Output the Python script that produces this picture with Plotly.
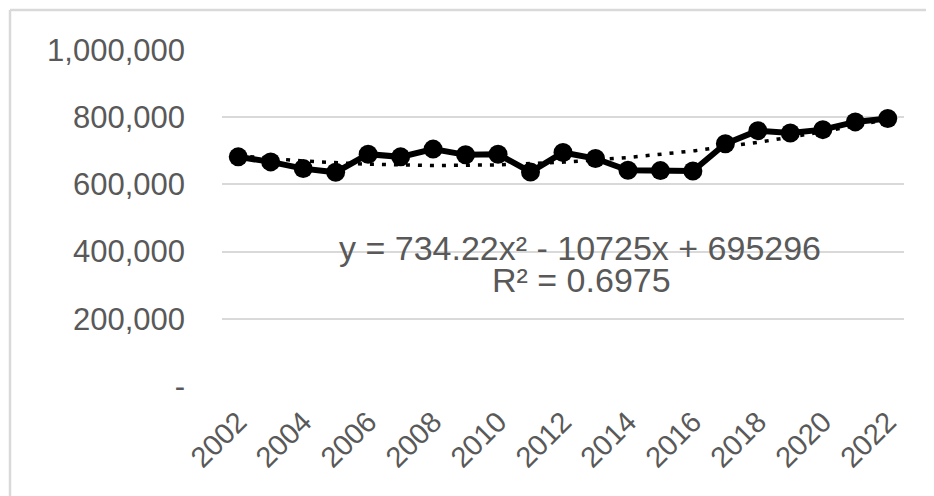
import numpy as np
import plotly.graph_objects as go

years = list(range(2002, 2023))
values = [682000, 667000, 647000, 636000, 690000, 682000, 705000, 688000, 690000, 637000,
          695000, 677000, 642000, 641000, 640000, 721000, 760000, 753000, 763000, 786000, 796000]
trend_coefs = [734.22, -10725, 695296]  # y = a x^2 + b x + c, x = 1..21
y_ticks = [0, 200000, 400000, 600000, 800000, 1000000]
y_ticktext = ["-", "200,000", "400,000", "600,000", "800,000", "1,000,000"]
x_ticks = list(range(2002, 2023, 2))
eq_text = "y = 734.22x² - 10725x + 695296"
r2_text = "R² = 0.6975"

# page body adds an 8px offset; compensate so plot area lands at x 222..904, y 50..386
OFF = 8
W, H = 934, 496
L, R, T, B = 222 - OFF, 30 + OFF, 50 - OFF, 110 + OFF
pw, ph = W - L - R, H - T - B

def px_x(x):  # page pixel -> paper coordinate
    return (x - OFF - L) / pw

def px_y(y):
    return (H - B - (y - OFF)) / ph

xs = np.linspace(1, len(years), 200)
trend_y = np.polyval(trend_coefs, xs)
trend_x = years[0] - 1 + xs

fig = go.Figure()
fig.add_trace(go.Scatter(x=years, y=values, mode="lines+markers",
                         line=dict(color="black", width=6),
                         marker=dict(color="black", size=19), showlegend=False))
fig.add_trace(go.Scatter(x=trend_x, y=trend_y, mode="lines",
                         line=dict(color="black", width=3.5, dash="4px,8px"),
                         showlegend=False, hoverinfo="skip"))

grey = "#595959"
fig.update_layout(
    width=W, height=H,
    margin=dict(l=L, r=R, t=T, b=B),
    paper_bgcolor="white", plot_bgcolor="white",
    font=dict(family="Liberation Sans, Arial, sans-serif", color=grey, size=30),
    xaxis=dict(range=[years[0] - 0.5, years[-1] + 0.5], tickvals=x_ticks,
               tickangle=-45, showgrid=False, zeroline=False, showline=False,
               ticks="", tickfont=dict(size=29, color=grey), ticklabelstandoff=12),
    yaxis=dict(range=[0, 1000000], tickvals=y_ticks, ticktext=y_ticktext,
               showgrid=True, gridcolor="#d9d9d9", gridwidth=2, zeroline=False,
               showline=False, ticks="", tickfont=dict(size=31, color=grey),
               ticklabelstandoff=36),
)

fig.add_annotation(x=px_x(580), y=px_y(248), xref="paper", yref="paper",
                   text=eq_text, showarrow=False, font=dict(size=34, color=grey),
                   xanchor="center", yanchor="middle")
fig.add_annotation(x=px_x(581), y=px_y(280), xref="paper", yref="paper",
                   text=r2_text, showarrow=False, font=dict(size=34, color=grey),
                   xanchor="center", yanchor="middle")

# chart-area border (left and top edges visible)
bx0 = px_x(10)
by1 = px_y(10)
fig.add_shape(type="line", xref="paper", yref="paper", x0=bx0, x1=bx0, y0=by1, y1=-1,
              line=dict(color="#d9d9d9", width=2.5))
fig.add_shape(type="line", xref="paper", yref="paper", x0=bx0, x1=2, y0=by1, y1=by1,
              line=dict(color="#d9d9d9", width=2.5))

fig.write_html("out.html")
